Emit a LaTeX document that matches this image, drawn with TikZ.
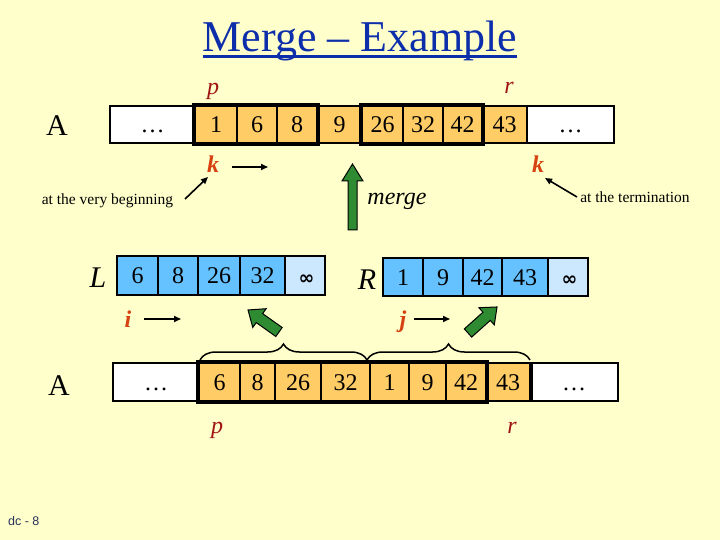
\documentclass[tikz,border=0pt]{standalone}
\usepackage{fontspec}
\setmainfont{Liberation Serif}
\newfontfamily\sansf{Liberation Sans}
\newfontfamily\symf{DejaVu Sans}
\usetikzlibrary{arrows.meta,decorations.pathreplacing}
\definecolor{bgyellow}{RGB}{255,255,204}
\definecolor{cellorange}{RGB}{255,204,102}
\definecolor{cellblue}{RGB}{102,194,255}
\definecolor{celllight}{RGB}{204,232,255}
\definecolor{titleblue}{RGB}{12,46,170}
\definecolor{darkred}{RGB}{160,20,20}
\definecolor{ptrcol}{RGB}{214,66,16}
\definecolor{greenarr}{RGB}{46,139,50}
\definecolor{footc}{RGB}{40,50,90}
\newcommand{\grarrow}[4]{\filldraw[fill=greenarr, draw=black, line width=1pt, line join=miter]
  (0,-#2) -- (#1-#4,-#2) -- (#1-#4,-#3) -- (#1,0) -- (#1-#4,#3) -- (#1-#4,#2) -- (0,#2) -- cycle;}
\newcommand{\infsym}{{\symf\bfseries\fontsize{19}{19}\selectfont\hspace{3pt}∞}}
\begin{document}
\begin{tikzpicture}[x=1pt,y=-1pt,
  cellbase/.style={draw=black, line width=2pt, inner sep=0pt, text height=16pt, text depth=0pt, font=\fontsize{24}{24}\selectfont},
  ocell/.style={cellbase, fill=cellorange},
  wcell/.style={cellbase, fill=white},
  bcell/.style={cellbase, fill=cellblue},
  icell/.style={cellbase, fill=celllight, text height=17pt},
  biglabel/.style={anchor=base, inner sep=0pt, font=\fontsize{30}{30}\selectfont},
  ptrlabel/.style={anchor=base, inner sep=0pt, text=ptrcol, font=\fontsize{24}{24}\selectfont\bfseries\itshape},
  idxlabel/.style={anchor=base, inner sep=0pt, text=darkred, font=\fontsize{24}{24}\selectfont\itshape},
  note/.style={anchor=base, inner sep=0pt, font=\fontsize{15.5}{16}\selectfont},
  arr/.style={line width=1.6pt, -{Triangle[length=7pt,width=6pt]}},
  group/.style={draw=black, line width=3.5pt},
  bracestyle/.style={decorate, decoration={brace, amplitude=16pt}, line width=1.5pt}
]
\useasboundingbox (0,0) rectangle (720,540);
\fill[bgyellow] (0,0) rectangle (720,540);

% title
\node[anchor=base, inner sep=0pt, text=titleblue, font=\fontsize{44}{44}\selectfont] (title) at (360,52) {Merge – Example};
\draw[titleblue, line width=3pt] ([yshift=-5pt]title.base west) -- ([yshift=-5pt]title.base east);

% top array
\node[biglabel] (A1) at (57,136) {A};
\begin{scope}[every node/.append style={minimum height=37pt}]
\node[wcell, minimum width=85pt] (td1) at (152.5,124.5) {\ldots};
\node[ocell, minimum width=42pt] (t1) at (216,124.5) {1};
\node[ocell, minimum width=40pt] (t2) at (257,124.5) {6};
\node[ocell, minimum width=40pt] (t3) at (297,124.5) {8};
\node[ocell, minimum width=45pt] (t4) at (339.5,124.5) {9};
\node[ocell, minimum width=41pt] (t5) at (382.5,124.5) {26};
\node[ocell, minimum width=40pt] (t6) at (423,124.5) {32};
\node[ocell, minimum width=39pt] (t7) at (462.5,124.5) {42};
\node[ocell, minimum width=45pt] (t8) at (504.5,124.5) {43};
\node[wcell, minimum width=87pt] (td2) at (570.5,124.5) {\ldots};
\end{scope}
\draw[group] (t1.north west) rectangle (t3.south east);
\draw[group] (t5.north west) rectangle (t7.south east);
\node[idxlabel] (p1) at (213,95) {p};
\node[idxlabel] (r1) at (509,94) {r};
\node[ptrlabel] (k1) at (213,173) {k};
\node[ptrlabel] (k2) at (538,173) {k};
\coordinate (k1s) at (232,167);
\coordinate (k1t) at (268,167);
\draw[arr] (k1s) -- (k1t);

% notes
\node[note] (beg) at (107.5,205) {at the very beginning};
\node[note] (term) at (635,203) {at the termination};
\coordinate (begs) at (185,199);
\coordinate (begt) at (208,177);
\draw[arr] (begs) -- (begt);
\coordinate (terms) at (577,197);
\coordinate (termt) at (545,178);
\draw[arr] (terms) -- (termt);

% merge arrow
\begin{scope}[shift={(352.5,230)}, rotate=90]
\grarrow{66}{4.5}{10.5}{17}
\end{scope}
\node[anchor=base, inner sep=0pt, font=\fontsize{24}{24}\selectfont\itshape] (merge) at (397,205) {merge};

% L array
\node[biglabel, font=\fontsize{30}{30}\selectfont\itshape] (L) at (98,287) {L};
\begin{scope}[every node/.append style={minimum height=39pt}]
\node[bcell, minimum width=41pt] (l1) at (137.5,275.5) {6};
\node[bcell, minimum width=40pt] (l2) at (178,275.5) {8};
\node[bcell, minimum width=42pt] (l3) at (219,275.5) {26};
\node[bcell, minimum width=45pt] (l4) at (262.5,275.5) {32};
\node[icell, minimum width=40pt] (l5) at (305,275.5) {\infsym};
\end{scope}
\node[ptrlabel] (i) at (128,327) {i};
\coordinate (is) at (144,319);
\coordinate (it) at (181,319);
\draw[arr] (is) -- (it);

% R array
\node[biglabel, font=\fontsize{30}{30}\selectfont\itshape] (R) at (367,289) {R};
\begin{scope}[every node/.append style={minimum height=38pt}]
\node[bcell, minimum width=40pt] (r1c) at (403,277) {1};
\node[bcell, minimum width=40pt] (r2c) at (443,277) {9};
\node[bcell, minimum width=39pt] (r3c) at (482.5,277) {42};
\node[bcell, minimum width=46pt] (r4c) at (525,277) {43};
\node[icell, minimum width=40pt] (r5c) at (568,277) {\infsym};
\end{scope}
\node[ptrlabel] (j) at (403,327) {j};
\coordinate (js) at (414,319);
\coordinate (jt) at (450,319);
\draw[arr] (js) -- (jt);

% diagonal green arrows
\begin{scope}[shift={(279,332)}, rotate=144.6]
\grarrow{38}{5.5}{11.5}{14}
\end{scope}
\begin{scope}[shift={(468,333)}, rotate=41.9]
\grarrow{39}{5.5}{11.5}{14}
\end{scope}

% braces
\coordinate (br1a) at (200,360);
\coordinate (br1b) at (367,360);
\coordinate (br2b) at (530,360);
\draw[bracestyle] (br1a) -- (br1b);
\draw[bracestyle] (br1b) -- (br2b);

% bottom array
\node[biglabel] (A2) at (59,395) {A};
\begin{scope}[every node/.append style={minimum height=38pt}]
\node[wcell, minimum width=86pt] (bd1) at (156,382) {\ldots};
\node[ocell, minimum width=41pt] (b1) at (219.5,382) {6};
\node[ocell, minimum width=35pt] (b2) at (257.5,382) {8};
\node[ocell, minimum width=46pt] (b3) at (298,382) {26};
\node[ocell, minimum width=49pt] (b4) at (345.5,382) {32};
\node[ocell, minimum width=39pt] (b5) at (389.5,382) {1};
\node[ocell, minimum width=37pt] (b6) at (427.5,382) {9};
\node[ocell, minimum width=40pt] (b7) at (466,382) {42};
\node[ocell, minimum width=44pt] (b8) at (508,382) {43};
\node[wcell, minimum width=88pt] (bd2) at (574,382) {\ldots};
\end{scope}
\draw[group] (b1.north west) rectangle (b7.south east);
\draw[line width=3.5pt] (b8.north east) -- (b8.south east);
\node[idxlabel] (p2) at (217,433) {p};
\node[idxlabel] (r2) at (512,433) {r};

% footer
\node[anchor=base west, inner sep=0pt, text=footc, font=\sansf\fontsize{12.5}{13}\selectfont] (foot) at (8,525) {dc - 8};
\end{tikzpicture}
\end{document}
